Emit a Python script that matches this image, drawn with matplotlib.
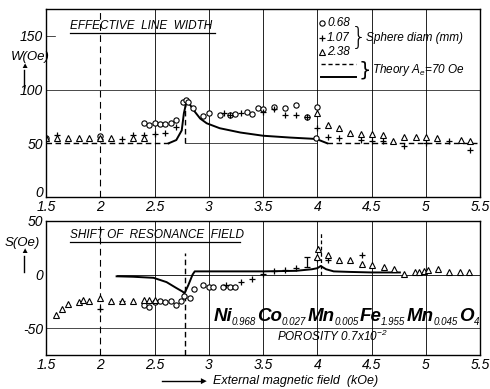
import matplotlib
matplotlib.use("Agg")
import matplotlib.pyplot as plt
from matplotlib.lines import Line2D
from matplotlib.transforms import IdentityTransform, ScaledTranslation

plt.rcParams['font.family'] = ['Liberation Sans', 'DejaVu Sans']
plt.rcParams['mathtext.fontset'] = 'custom'
plt.rcParams['mathtext.rm'] = 'Liberation Sans:italic'
plt.rcParams['mathtext.it'] = 'Liberation Sans:italic'
plt.rcParams['mathtext.bf'] = 'Liberation Sans:bold:italic'

# ---------------- data: top panel (effective line width) ----------------
w_circ_x = [1.5, 2.0, 2.40, 2.45, 2.50, 2.55, 2.60, 2.65, 2.70, 2.765, 2.79, 2.81, 2.85,
            2.95, 3.0, 3.10, 3.196, 3.245, 3.35, 3.40, 3.45, 3.50, 3.60, 3.70, 3.80, 3.90,
            4.0, 3.99]
w_circ_y = [55, 57, 69, 67, 69, 67.5, 68, 69, 72, 88.7, 90, 88, 82.5,
            75.7, 78, 76.6, 76.6, 77, 79.4, 77, 82.6, 81.7, 84, 82.6, 85.7, 74,
            84, 54.6]
w_plus_x = [1.60, 2.0, 2.20, 2.30, 2.40, 2.50, 2.60, 2.70, 3.143, 3.196, 3.30, 3.50, 3.60,
            3.70, 3.80, 3.90, 4.0, 4.10, 4.20, 4.40, 4.50, 4.60, 4.80, 5.0, 5.21, 5.41]
w_plus_y = [58, 54, 54, 57.5, 57.5, 59, 60, 65.5, 78.5, 76.6, 78, 79, 82,
            76.6, 76.6, 74, 64, 55.6, 55, 53, 51.7, 52, 47, 50, 52, 44]
w_tri_x = [1.5, 1.60, 1.70, 1.80, 1.90, 2.0, 2.10, 2.30, 2.40, 4.0, 4.10, 4.20, 4.30,
           4.40, 4.50, 4.60, 4.70, 4.80, 4.91, 5.0, 5.10, 5.32, 5.41]
w_tri_y = [55, 55, 55, 55, 55, 55, 55, 55, 55, 78, 67, 64, 60,
           59, 59, 57.7, 52, 55.6, 56, 56, 55, 53, 52]
w_theory_x = [2.63, 2.70, 2.75, 2.77, 2.79, 2.80, 2.858, 2.92, 2.98, 3.10, 3.29, 3.50,
              3.75, 3.99, 4.09]
w_theory_y = [50, 53, 62, 78, 87, 90, 81, 73, 68.6, 64, 60, 57, 55.3, 54, 50]

# ---------------- data: bottom panel (shift of resonance field) ----------------
s_circ_x = [2.40, 2.45, 2.50, 2.55, 2.60, 2.65, 2.695, 2.74, 2.775, 2.83, 2.867, 2.944,
            3.0, 3.04, 3.134, 3.196, 3.24]
s_circ_y = [-28.7, -30, -26, -25, -26, -25, -28.7, -25, -20.3, -22, -13, -10,
            -11.5, -11.5, -11.5, -11.5, -11.5]
s_plus_x = [2.0, 2.2, 3.16, 3.295, 3.396, 3.497, 3.60, 3.70, 3.80, 4.0, 4.10, 4.41]
s_plus_y = [-32, -25, -10, -7, -4.4, 1, 3.5, 4, 6.5, 15, 14, 18]
s_err_x = [3.90]
s_err_y = [11.5]
s_err_e = [4.5]
s_tri_x = [1.592, 1.645, 1.705, 1.80, 1.844, 1.90, 2.0, 2.10, 2.20, 2.30, 2.40, 2.45,
           2.50, 4.01, 4.0, 4.10, 4.20, 4.30, 4.41, 4.507, 4.61, 4.707, 4.80, 4.90,
           4.94, 4.98, 5.015, 5.11, 5.21, 5.31, 5.40]
s_tri_y = [-38, -32.4, -27, -25.5, -24, -25, -21.8, -25, -25, -24.6, -24, -24,
           -24, 24, 16.5, 18.7, 14, 13.4, 9.7, 8.7, 7.2, 5, 1, 2,
           2.5, 3, 4, 5, 2, 2, 2]
s_theory_x = [2.15, 2.3, 2.49, 2.61, 2.70, 2.76, 2.775, 2.81, 2.85, 2.87, 3.0, 3.5,
              3.8, 3.95, 4.0, 4.03, 4.08, 4.15, 4.3, 4.5, 4.76]
s_theory_y = [-1.6, -2, -3, -7, -12.5, -16, -17.5, -10, 0, 3, 3, 3,
              3.5, 5, 6, 8, 5, 3, 2.5, 2, 2]

xticks = [1.5, 2, 2.5, 3, 3.5, 4, 4.5, 5, 5.5]
xtick_labels = ['1.5', '2', '2.5', '3', '3.5', '4', '4.5', '5', '5.5']
w_ticks = [0, 50, 100, 150]
s_ticks = [-50, 0, 50]

formula_elems = ['Ni', 'Co', 'Mn', 'Fe', 'Mn', 'O']
formula_subs = ['0.968', '0.027', '0.005', '1.955', '0.045', '4']

fig = plt.figure(figsize=(4.9, 3.89), dpi=100)
ax1 = fig.add_axes([0.094, 0.4936, 0.886, 0.4834])
ax2 = fig.add_axes([0.094, 0.0874, 0.886, 0.3445])

tickfont = dict(fontsize=10, fontstyle='italic')
mk = dict(linestyle='none', color='black', markersize=3.8, markeredgewidth=0.8)

for ax in (ax1, ax2):
    ax.set_xlim(1.5, 5.5)
    ax.set_xticks(xticks)
    ax.set_xticklabels(xtick_labels, **tickfont)
    ax.tick_params(length=0, pad=2)
    for sp in ax.spines.values():
        sp.set_linewidth(1.0)
    for xv in [2.5, 3, 3.5, 4, 4.5, 5]:
        ax.axvline(xv, color='black', lw=0.6, zorder=0)
    ax.axvline(2.0, color='black', lw=0.8, ls=(0, (6, 4)), zorder=0)

# ---- top panel ----
ax1.set_ylim(0, 175)
ax1.set_yticks(w_ticks)
ax1.set_yticklabels([str(v) for v in w_ticks], **tickfont)
lab0 = ax1.get_yticklabels()[0]
lab0.set_transform(lab0.get_transform() +
                   ScaledTranslation(0, 4 / 72, fig.dpi_scale_trans))
ax1.axhline(100, color='black', lw=0.5, zorder=0)
ax1.axhline(150, xmin=0, xmax=0.02, color='black', lw=0.5, zorder=0)
ax1.plot([2.78, 4.0], [50, 50], color='black', lw=0.5, zorder=0)
ax1.plot([1.5, 2.63], [50, 50], color='black', lw=1.0, ls=(0, (4, 2.5)))
ax1.plot([4.09, 5.5], [50, 50], color='black', lw=1.0, ls=(0, (4, 2.5)))
ax1.plot([2.78, 2.78], [50, 90], color='black', lw=1.0, ls=(0, (4, 2.5)))
ax1.plot(w_theory_x, w_theory_y, color='black', lw=1.4)
ax1.plot(w_circ_x, w_circ_y, marker='o', mfc='white', **mk)
ax1.plot(w_plus_x, w_plus_y, marker='+', markersize=5, markeredgewidth=0.9,
         linestyle='none', color='black')
ax1.plot(w_tri_x, w_tri_y, marker='^', mfc='white', **mk)

ax1.text(1.72, 159, 'EFFECTIVE  LINE  WIDTH', fontsize=8.5, fontstyle='italic',
         va='center', ha='left')
ax1.plot([1.72, 3.06], [153, 153], color='black', lw=0.9)

# legend
ax1.plot([4.04], [162], marker='o', mfc='white', **mk)
ax1.plot([4.04], [148], marker='+', markersize=5, markeredgewidth=0.9,
         linestyle='none', color='black')
ax1.plot([4.04], [135], marker='^', mfc='white', **mk)
lf = dict(fontsize=8.5, fontstyle='italic', va='center', ha='left')
ax1.text(4.09, 162, '0.68', **lf)
ax1.text(4.09, 148, '1.07', **lf)
ax1.text(4.09, 135, '2.38', **lf)
ax1.text(4.31, 148, '}', fontsize=18, va='center', ha='left',
         family='DejaVu Sans', fontweight='ultralight')
ax1.text(4.45, 148, 'Sphere diam (mm)', **lf)
ax1.plot([4.03, 4.36], [124, 124], color='black', lw=1.0, ls=(0, (3, 2)))
ax1.plot([4.03, 4.36], [112, 112], color='black', lw=1.4)
ax1.text(4.38, 118, '}', fontsize=14, va='center', ha='left', family='DejaVu Sans')
ax1.text(4.50, 118, r'Theory $A_e$=70 Oe', **lf)

# ---- bottom panel ----
ax2.set_ylim(-75, 50)
ax2.set_yticks(s_ticks)
ax2.set_yticklabels([str(v) for v in s_ticks], **tickfont)
ax2.axhline(-50, color='black', lw=0.5, zorder=0)
ax2.plot([2.15, 5.5], [0, 0], color='black', lw=0.6, zorder=0)
ax2.plot([2.78, 2.78], [-75, 20], color='black', lw=1.0, ls=(0, (4, 2.5)))
ax2.plot([4.03, 4.03], [0, 40], color='black', lw=0.9, ls=(0, (3, 2)))
ax2.plot(s_theory_x, s_theory_y, color='black', lw=1.4)
ax2.plot(s_circ_x, s_circ_y, marker='o', mfc='white', **mk)
ax2.plot(s_plus_x, s_plus_y, marker='+', markersize=5, markeredgewidth=0.9,
         linestyle='none', color='black')
ax2.errorbar(s_err_x, s_err_y, yerr=s_err_e, fmt='none', ecolor='black',
             elinewidth=0.9, capsize=2.5, capthick=0.9)
ax2.plot(s_tri_x, s_tri_y, marker='^', mfc='white', **mk)

ax2.text(1.72, 37, 'SHIFT OF  RESONANCE  FIELD', fontsize=8.5, fontstyle='italic',
         va='center', ha='left')
ax2.plot([1.72, 3.29], [30.5, 30.5], color='black', lw=0.9)

# formula built from element + subscript pieces, placed in pixel space
renderer = fig.canvas.get_renderer()
px, py = ax2.transData.transform((3.04, -43))
ident = IdentityTransform()
for el, sub in zip(formula_elems, formula_subs):
    t = fig.text(px, py, el, transform=ident, fontsize=13.5, fontweight='bold',
                 fontstyle='italic', va='baseline', ha='left')
    bb = t.get_window_extent(renderer)
    t2 = fig.text(bb.x1 - 0.5, py - 4, sub, transform=ident, fontsize=7,
                  fontstyle='italic', va='baseline', ha='left')
    bb2 = t2.get_window_extent(renderer)
    px = bb2.x1 + 1.5

ax2.text(3.63, -58, r'POROSITY 0.7x10$^{-2}$', fontsize=8.5, fontstyle='italic',
         va='center', ha='left')

# y labels with arrows
fig.text(0.062, 1 - 57 / 389, 'W(Oe)', fontsize=9.5, fontstyle='italic',
         ha='center', va='center')
fig.add_artist(Line2D([0.049, 0.049], [1 - 88 / 389, 1 - 70 / 389],
                      color='black', lw=1.0))
fig.text(0.049, 1 - 66 / 389, '▲', fontsize=6, ha='center', va='center')
fig.text(0.045, 1 - 243 / 389, 'S(Oe)', fontsize=9.5, fontstyle='italic',
         ha='center', va='center')
fig.add_artist(Line2D([0.049, 0.049], [1 - 272 / 389, 1 - 256 / 389],
                      color='black', lw=1.0))
fig.text(0.049, 1 - 252 / 389, '▲', fontsize=6, ha='center', va='center')

# x label with arrow
fig.add_artist(Line2D([0.33, 0.41], [0.02, 0.02], color='black', lw=1.0))
fig.text(0.415, 0.02, '►', fontsize=7, ha='center', va='center')
fig.text(0.435, 0.02, 'External magnetic field  (kOe)', fontsize=9,
         fontstyle='italic', ha='left', va='center')

fig.savefig('out.png', dpi=100)
